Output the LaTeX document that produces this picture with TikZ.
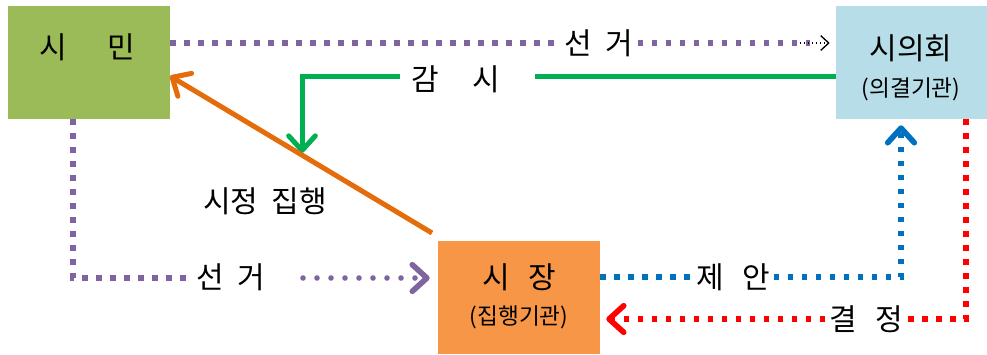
\documentclass[tikz,border=0pt]{standalone}
\usepackage{fontspec}
\setmainfont{Noto Sans CJK KR}
\usetikzlibrary{arrows.meta}
\definecolor{boxgreen}{HTML}{9BBB59}
\definecolor{boxblue}{HTML}{B7DEE8}
\definecolor{boxorange}{HTML}{F79646}
\definecolor{purp}{HTML}{8064A2}
\definecolor{grn}{HTML}{00B050}
\definecolor{org}{HTML}{E46C0A}
\definecolor{blu}{HTML}{0070C0}
\definecolor{rd}{HTML}{FF0000}
\begin{document}
\begin{tikzpicture}[x=0.75pt,y=-0.75pt,
  box/.style={draw=none,inner sep=0pt,minimum height=84.75pt},
  big/.style={font=\fontsize{22.5}{26}\selectfont,inner sep=3pt},
  small/.style={font=\fontsize{17}{20}\selectfont,inner sep=2pt},
  sqdot/.style={line width=4.2pt,line cap=butt,dash pattern=on 4.2pt off 6.3pt},
  rnddot/.style={line width=4.2pt,line cap=round,dash pattern=on 0pt off 10.5pt},
  chev/.style={-{Straight Barb[round,length=11pt,width=20pt]}},
  solidline/.style={line width=3.75pt}]
\useasboundingbox (0,0) rectangle (987,354);
% boxes
\node[box,fill=boxgreen,minimum width=121.5pt] (simin) at (89,62.5) {};
\node[box,fill=boxblue,minimum width=113.25pt] (sieui) at (911.5,62.5) {};
\node[box,fill=boxorange,minimum width=121.5pt] (sijang) at (519,297.5) {};
% box texts
\node[big] (tsimin) at (87,47) {시\hspace{1.35em}민};
\node[big] (tsieui) at (911,48) {시의회};
\node[small] (tsieui2) at (911,89) {(의결기관)};
\node[big] (tsijang) at (519,277) {시\hspace{0.6em}장};
\node[small] (tsijang2) at (519,317) {(집행기관)};
% labels
\node[big] (lsg1) at (599,43) {선\hspace{0.45em}거};
\node[big] (lgam) at (456,79) {감\hspace{1.1em}시};
\node[big] (lexec) at (265,201) {시정\hspace{0.45em}집행};
\node[big] (lsg2) at (231,277) {선\hspace{0.45em}거};
\node[big] (lje) at (733,277) {제\hspace{0.6em}안};
\node[big] (lgy) at (866,319) {결\hspace{0.6em}정};
% coordinates
\coordinate (pa) at (810,43);
\coordinate (pb) at (800,43);
\coordinate (gc) at (302,76);
\coordinate (ga) at (400,76);
\coordinate (gb) at (535,76);
\coordinate (gt) at (302,153);
\coordinate (os) at (432,233);
\coordinate (ot) at (170,76);
\coordinate (pl) at (73,278);
\coordinate (pr) at (303,278);
\coordinate (bc) at (901,277);
\coordinate (rc) at (966,319);
% top election
\draw[purp,sqdot] (simin.east |- pa) -- (lsg1.west |- pa);
\draw[purp,sqdot] (lsg1.east |- pa) -- (pa);
\draw[black,line width=1pt,dash pattern=on 1pt off 2pt,-{Straight Barb[length=6pt,width=11pt]},shorten >=4.5pt] (pb) -- (sieui.west |- pa);
% green supervision
\draw[grn,solidline] (sieui.west |- gc) -- (gb);
\draw[grn,solidline,chev] (ga) -- (gc) -- (gt);
% orange
\draw[org,solidline,chev] (os) -- (ot);
% left election
\draw[purp,sqdot] (simin.south -| pl) -- (pl) -- (lsg2.west |- pl);
\draw[purp,rnddot,chev,shorten >=6pt] (pr) -- (sijang.west |- pr);
% blue proposal
\draw[blu,sqdot] (sijang.east |- bc) -- (lje.west |- bc);
\draw[blu,sqdot,chev,shorten >=4.5pt] (lje.east |- bc) -- (bc) -- (sieui.south -| bc);
% red decision
\draw[rd,sqdot] (sieui.south -| rc) -- (rc) -- (lgy.east |- rc);
\draw[rd,sqdot,chev,shorten >=4.5pt] (lgy.west |- rc) -- (sijang.east |- rc);
\end{tikzpicture}
\end{document}
